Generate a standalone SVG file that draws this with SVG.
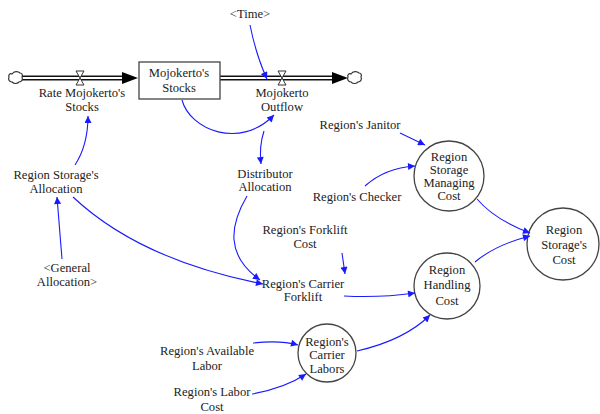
<svg xmlns="http://www.w3.org/2000/svg" width="600" height="414" viewBox="0 0 600 414">
<defs>
<style>
text{font-family:'Liberation Serif','DejaVu Serif',serif;font-size:12.6px;fill:#222;text-anchor:middle}
.c{fill:none;stroke:#1a1aff;stroke-width:1.1}
.n{fill:#fff;stroke:#444;stroke-width:1.3}
.pipeo{stroke:#111;stroke-width:5;fill:none}
.pipei{stroke:#fff;stroke-width:2;fill:none}
.cloud{fill:#fff;stroke:#333;stroke-width:1.2}
.valve{fill:#fff;stroke:#333;stroke-width:1}
</style>
<marker id="a" viewBox="0 0 10 10" refX="10" refY="5" markerWidth="9" markerHeight="7" markerUnits="userSpaceOnUse" orient="auto"><path d="M0,0L10,5L0,10z" fill="#1a1aff"/></marker>
</defs>

<g id="flows">
<path class="pipeo" d="M22,78H126"/><path class="pipei" d="M22,78H126"/>
<path d="M122,72L138,78L122,84z" fill="#000"/>
<path class="pipeo" d="M220,78H334"/><path class="pipei" d="M220,78H334"/>
<path d="M332,72L348,78L332,84z" fill="#000"/>
</g>

<g id="cloud-left"><path class="cloud" d="M12,74c2,-3 6,-3 8,-1c2,0 3,2 2,4c1,2 0,5 -3,5c-2,2 -5,2 -7,0c-3,0 -4,-3 -3,-5c-1,-2 1,-4 3,-3z"/></g>
<g id="cloud-right"><path class="cloud" d="M351,74c2,-3 6,-3 8,-1c2,0 3,2 2,4c1,2 0,5 -3,5c-2,2 -5,2 -7,0c-3,0 -4,-3 -3,-5c-1,-2 1,-4 3,-3z"/></g>

<g id="rate-mojokerto-stocks">
<path class="valve" d="M76,71H84L80,78L84,85H76L80,78z"/>
<text x="82" y="97">Rate Mojokerto's</text><text x="82" y="111">Stocks</text>
</g>
<g id="mojokerto-outflow">
<path class="valve" d="M278,71H286L282,78L286,85H278L282,78z"/>
<text x="282" y="97">Mojokerto</text><text x="282" y="111">Outflow</text>
</g>
<g id="mojokertos-stocks">
<rect class="n" x="139" y="62" width="81" height="37"/>
<text x="179" y="77">Mojokerto's</text><text x="179" y="92">Stocks</text>
</g>
<g id="time"><text x="250" y="18">&lt;Time&gt;</text></g>
<g id="distributor-allocation"><text x="265" y="178">Distributor</text><text x="265" y="191">Allocation</text></g>
<g id="region-storage-allocation"><text x="56" y="179">Region Storage's</text><text x="56" y="193">Allocation</text></g>
<g id="general-allocation"><text x="67" y="272">&lt;General</text><text x="67" y="286">Allocation&gt;</text></g>
<g id="region-janitor"><text x="360" y="129">Region's Janitor</text></g>
<g id="region-checker"><text x="357" y="201">Region's Checker</text></g>
<g id="region-forklift-cost"><text x="305" y="234">Region's Forklift</text><text x="305" y="248">Cost</text></g>
<g id="region-carrier-forklift"><text x="303" y="288">Region's Carrier</text><text x="303" y="301">Forklift</text></g>
<g id="region-available-labor"><text x="207" y="355">Region's Available</text><text x="207" y="370">Labor</text></g>
<g id="region-labor-cost"><text x="212" y="396">Region's Labor</text><text x="212" y="411">Cost</text></g>

<g id="region-storage-managing-cost">
<circle class="n" cx="449" cy="176" r="35"/>
<text x="449" y="161">Region</text><text x="449" y="174">Storage</text><text x="449" y="187">Managing</text><text x="449" y="200">Cost</text>
</g>
<g id="region-storages-cost">
<circle class="n" cx="563" cy="244" r="36"/>
<text x="564" y="234">Region</text><text x="564" y="249">Storage's</text><text x="564" y="264">Cost</text>
</g>
<g id="region-handling-cost">
<circle class="n" cx="447" cy="286" r="33"/>
<text x="447" y="274">Region</text><text x="447" y="289">Handling</text><text x="447" y="305">Cost</text>
</g>
<g id="region-carrier-labors">
<circle class="n" cx="327" cy="353" r="29"/>
<text x="327" y="346">Region's</text><text x="327" y="359">Carrier</text><text x="327" y="373">Labors</text>
</g>

<g id="connectors">
<path class="c" marker-end="url(#a)" d="M250,25Q256,55 267,79"/>
<path class="c" marker-end="url(#a)" d="M182,100C190,130 240,150 274,115"/>
<path class="c" marker-end="url(#a)" d="M264,131Q259,146 261,164"/>
<path class="c" marker-end="url(#a)" d="M75,165Q88,145 88,116"/>
<path class="c" marker-end="url(#a)" d="M62,259L57,197"/>
<path class="c" marker-end="url(#a)" d="M73,197Q140,260 263,284"/>
<path class="c" marker-end="url(#a)" d="M247,196C230,225 225,255 260,280"/>
<path class="c" marker-end="url(#a)" d="M342,253L345,274"/>
<path class="c" marker-end="url(#a)" d="M344,296Q380,298 415,293"/>
<path class="c" marker-end="url(#a)" d="M253,343Q280,340 298,345"/>
<path class="c" marker-end="url(#a)" d="M252,394Q285,388 306,374"/>
<path class="c" marker-end="url(#a)" d="M357,351Q405,340 430,315"/>
<path class="c" marker-end="url(#a)" d="M475,262Q495,245 530,236"/>
<path class="c" marker-end="url(#a)" d="M477,199Q495,220 530,233"/>
<path class="c" marker-end="url(#a)" d="M400,133L425,145"/>
<path class="c" marker-end="url(#a)" d="M365,186Q385,168 415,166"/>
</g>
</svg>
